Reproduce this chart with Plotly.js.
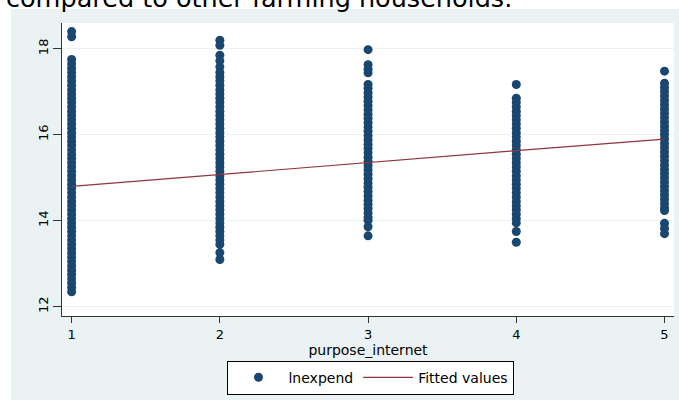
<!DOCTYPE html>
<html>
<head>
<meta charset="utf-8">
<script src="https://cdn.plot.ly/plotly-3.0.1.min.js"></script>
<style>
  html, body { margin: 0; padding: 0; background: #ffffff; width: 679px; height: 400px; overflow: hidden; }
  #lead { position: absolute; left: 6px; top: -14px; font-family: "DejaVu Sans", sans-serif; font-size: 25.5px; line-height: 25px; color: #000; white-space: nowrap; z-index: 5; }
  #chart { position: absolute; left: 11px; top: 9px; width: 668px; height: 391px; }
</style>
</head>
<body>
<div id="lead">compared to other farming households.</div>
<div id="chart"></div>
<script>
// ---- data ----
const categories = [1, 2, 3, 4, 5];
const xTickLabels = ["1", "2", "3", "4", "5"];
const yTickVals = [12, 14, 16, 18];

const lnexpend_1 = [18.40, 18.28, 17.75, 17.65, 17.55, 17.45, 17.35, 17.25, 17.15, 17.05, 16.95, 16.85, 16.75, 16.65, 16.55, 16.45, 16.35, 16.25, 16.15, 16.05, 15.95, 15.85, 15.75, 15.65, 15.55, 15.45, 15.35, 15.25, 15.15, 15.05, 14.95, 14.85, 14.75, 14.65, 14.55, 14.45, 14.35, 14.25, 14.15, 14.05, 13.95, 13.85, 13.75, 13.65, 13.55, 13.45, 13.35, 13.25, 13.15, 13.05, 12.95, 12.85, 12.75, 12.65, 12.55, 12.45, 12.35];
const lnexpend_2 = [18.20, 18.08, 17.85, 17.72, 17.58, 17.45, 17.35, 17.25, 17.15, 17.05, 16.95, 16.85, 16.75, 16.65, 16.55, 16.45, 16.35, 16.25, 16.15, 16.05, 15.95, 15.85, 15.75, 15.65, 15.55, 15.45, 15.35, 15.25, 15.15, 15.05, 14.95, 14.85, 14.75, 14.65, 14.55, 14.45, 14.35, 14.25, 14.15, 14.05, 13.95, 13.85, 13.75, 13.65, 13.55, 13.45, 13.26, 13.10];
const lnexpend_3 = [17.98, 17.63, 17.52, 17.44, 17.17, 17.08, 16.98, 16.88, 16.78, 16.68, 16.58, 16.48, 16.38, 16.28, 16.18, 16.08, 15.98, 15.88, 15.78, 15.68, 15.58, 15.48, 15.38, 15.28, 15.18, 15.08, 14.98, 14.88, 14.78, 14.68, 14.58, 14.48, 14.38, 14.28, 14.18, 14.08, 14.01, 13.86, 13.65];
const lnexpend_4 = [17.17, 16.85, 16.75, 16.65, 16.55, 16.45, 16.35, 16.25, 16.15, 16.05, 15.95, 15.85, 15.75, 15.65, 15.55, 15.45, 15.35, 15.25, 15.15, 15.05, 14.95, 14.85, 14.75, 14.65, 14.55, 14.45, 14.35, 14.25, 14.15, 14.05, 13.95, 13.75, 13.50];
const lnexpend_5 = [17.48, 17.20, 17.10, 17.00, 16.90, 16.80, 16.70, 16.60, 16.50, 16.40, 16.30, 16.20, 16.10, 16.00, 15.90, 15.80, 15.70, 15.60, 15.50, 15.40, 15.30, 15.20, 15.10, 15.00, 14.90, 14.80, 14.70, 14.60, 14.50, 14.40, 14.30, 14.24, 13.94, 13.82, 13.70];
const fittedValues = [14.80, 15.08, 15.35, 15.63, 15.90];

// ---- build traces ----
const columns = [lnexpend_1, lnexpend_2, lnexpend_3, lnexpend_4, lnexpend_5];
const sx = [], sy = [];
columns.forEach((col, i) => {
  col.forEach(v => { sx.push(categories[i]); sy.push(v); });
});

const navy = "#1a476f";
const maroon = "#90353b";
const bg = "#eaf2f3";
const font = "DejaVu Sans, Verdana, sans-serif";

const traces = [
  {
    type: "scatter", mode: "markers", name: "lnexpend",
    x: sx, y: sy,
    marker: { color: navy, size: 9, line: { width: 0 } },
    hoverinfo: "x+y"
  },
  {
    type: "scatter", mode: "lines", name: "Fitted values",
    x: categories, y: fittedValues,
    line: { color: maroon, width: 1.2 }
  }
];

const layout = {
  width: 668, height: 391,
  margin: { l: 51, r: 5, t: 14, b: 82, pad: 0 },
  paper_bgcolor: bg,
  plot_bgcolor: "#ffffff",
  font: { family: font, size: 13, color: "#000" },
  showlegend: true,
  legend: {
    orientation: "h",
    x: 0.2704, xanchor: "left",
    y: -0.1525, yanchor: "top",
    bgcolor: "#ffffff", bordercolor: "#000000", borderwidth: 1,
    font: { family: font, size: 14, color: "#000" },
    itemwidth: 50
  },
  xaxis: {
    range: [0.935, 5.064],
    tickvals: categories, ticktext: xTickLabels,
    ticks: "outside", ticklen: 6, tickwidth: 1, tickcolor: "#333",
    showline: true, linecolor: "#333", linewidth: 1,
    showgrid: false, zeroline: false,
    tickfont: { family: font, size: 13, color: "#000" },
    title: { text: "purpose_internet", font: { family: font, size: 14, color: "#000" }, standoff: 0 }
  },
  yaxis: {
    range: [11.785, 18.60],
    tickvals: yTickVals,
    ticks: "outside", ticklen: 8, tickwidth: 1, tickcolor: "#333",
    showline: true, linecolor: "#333", linewidth: 1,
    showgrid: true, gridcolor: bg, gridwidth: 1,
    zeroline: false,
    tickangle: -90,
    tickfont: { family: font, size: 13, color: "#000" }
  }
};

Plotly.newPlot("chart", traces, layout, { staticPlot: true, displayModeBar: false });
</script>
</body>
</html>
